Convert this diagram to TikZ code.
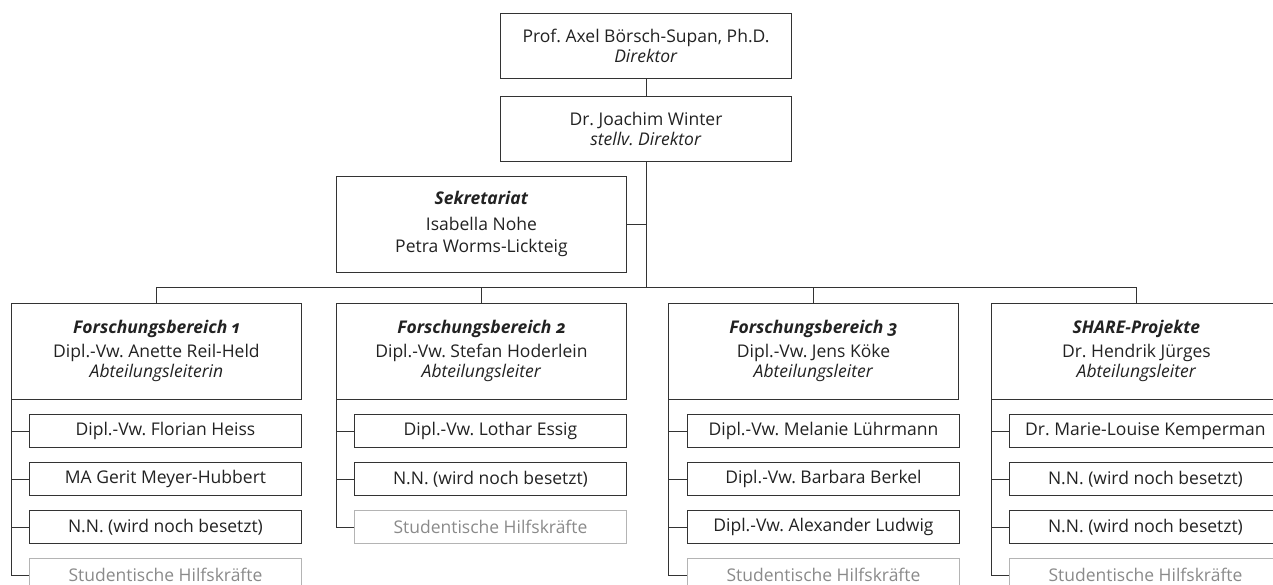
\documentclass[tikz,border=0pt]{standalone}
\usepackage{fontspec}
\setmainfont[Numbers=OldStyle]{Open Sans}
\usetikzlibrary{positioning}

\definecolor{linegray}{HTML}{333333}
\definecolor{textgray}{HTML}{222222}
\definecolor{hiwiline}{HTML}{B4B4B4}
\definecolor{hiwitext}{HTML}{8A8A8A}

\tikzset{
  box/.style={draw=linegray, line width=0.9pt, text=textgray, align=center, inner sep=0pt},
  topbox/.style={box, minimum width=291pt, minimum height=65pt},
  headbox/.style={box, minimum width=290pt, minimum height=96pt},
  subbox/.style={box, minimum width=272pt, minimum height=33pt},
  hiwibox/.style={subbox, draw=hiwiline, text=hiwitext},
  link/.style={draw=linegray, line width=0.9pt}
}

\begin{document}
\frenchspacing
\begin{tikzpicture}[x=1pt, y=-1pt, font=\fontsize{17.5}{20}\selectfont]
  \useasboundingbox (0,0) rectangle (1273,585);
  \clip (0,0) rectangle (1273,585);

  % Leitung
  \node[topbox, anchor=north west, text depth=-3pt] (dir) at (500,13)
    {Prof. Axel Börsch-Supan, Ph.D.\\ \textit{Direktor}};
  \node[topbox, below=17pt of dir, text depth=-3pt] (vize)
    {Dr. Joachim Winter\\ \textit{stellv. Direktor}};
  \node[headbox, anchor=north west] (sek) at (336,176)
    {\textbf{\textit{Sekretariat}}\\[6pt] Isabella Nohe\\[2pt] Petra Worms-Lickteig};

  % Abteilungen
  \node[headbox, anchor=north west] (fbA) at (11,303)
    {\textbf{\textit{Forschungsbereich 1}}\\[4pt] Dipl.-Vw. Anette Reil-Held\\ \textit{Abteilungsleiterin}};
  \node[headbox, anchor=north west] (fbB) at (336,303)
    {\textbf{\textit{Forschungsbereich 2}}\\[4pt] Dipl.-Vw. Stefan Hoderlein\\ \textit{Abteilungsleiter}};
  \node[headbox, anchor=north west] (fbC) at (668,303)
    {\textbf{\textit{Forschungsbereich 3}}\\[4pt] Dipl.-Vw. Jens Köke\\ \textit{Abteilungsleiter}};
  \node[headbox, anchor=north west] (share) at (991,303)
    {\textbf{\textit{SHARE-Projekte}}\\[4pt] Dr. Hendrik Jürges\\ \textit{Abteilungsleiter}};

  % Mitarbeiter
  \foreach \txt [count=\i] in {Dipl.-Vw. Florian Heiss, MA Gerit Meyer-Hubbert, N.N. (wird noch besetzt)}
    \node[subbox, anchor=north west] (fbA-\i) at (29,{366+48*\i}) {\txt};
  \node[hiwibox, anchor=north west] (fbA-4) at (29,558) {Studentische Hilfskräfte};

  \foreach \txt [count=\i] in {Dipl.-Vw. Lothar Essig, N.N. (wird noch besetzt)}
    \node[subbox, anchor=north west] (fbB-\i) at (354,{366+48*\i}) {\txt};
  \node[hiwibox, anchor=north west] (fbB-3) at (354,510) {Studentische Hilfskräfte};

  \foreach \txt [count=\i] in {Dipl.-Vw. Melanie Lührmann, Dipl.-Vw. Barbara Berkel, Dipl.-Vw. Alexander Ludwig}
    \node[subbox, anchor=north west] (fbC-\i) at (687,{366+48*\i}) {\txt};
  \node[hiwibox, anchor=north west] (fbC-4) at (687,558) {Studentische Hilfskräfte};

  \foreach \txt [count=\i] in {Dr. Marie-Louise Kemperman, N.N. (wird noch besetzt), N.N. (wird noch besetzt)}
    \node[subbox, anchor=north west] (share-\i) at (1009,{366+48*\i}) {\txt};
  \node[hiwibox, anchor=north west] (share-4) at (1009,558) {Studentische Hilfskräfte};

  % Verbindungen
  \coordinate (bus) at (0,287);
  \draw[link] (dir) -- (vize);
  \draw[link] (vize.south) -- (vize.south |- bus);
  \draw[link] (sek.east) -- (sek.east -| vize.south);
  \draw[link] (fbA.north) |- (share.north |- bus) -- (share.north);
  \draw[link] (fbB.north) -- (fbB.north |- bus);
  \draw[link] (fbC.north) -- (fbC.north |- bus);

  \draw[link] (fbA.south west) |- (fbA-4.west);
  \draw[link] (fbB.south west) |- (fbB-3.west);
  \draw[link] (fbC.south west) |- (fbC-4.west);
  \draw[link] (share.south west) |- (share-4.west);
  \foreach \i in {1,2,3} {
    \draw[link] (fbA-\i.west) -- (fbA-\i.west -| fbA.west);
    \draw[link] (fbC-\i.west) -- (fbC-\i.west -| fbC.west);
    \draw[link] (share-\i.west) -- (share-\i.west -| share.west);
  }
  \foreach \i in {1,2}
    \draw[link] (fbB-\i.west) -- (fbB-\i.west -| fbB.west);
\end{tikzpicture}
\end{document}
